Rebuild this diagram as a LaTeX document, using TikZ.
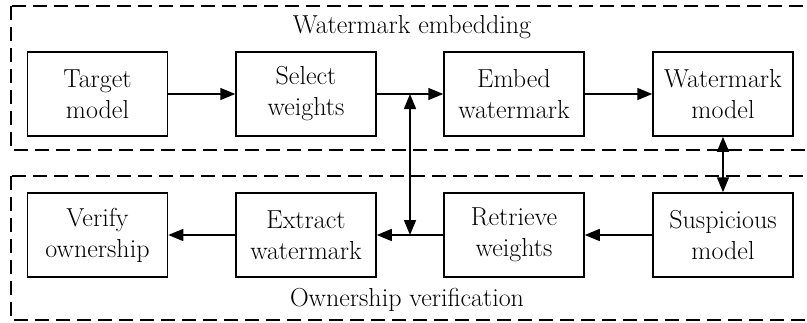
\documentclass[tikz,border=0pt]{standalone}
\usetikzlibrary{arrows.meta,calc}

\tikzset{
  blk/.style={draw, line width=1.5pt, minimum width=140pt, minimum height=84pt,
    inner sep=0pt, align=center, font=\fontsize{26}{31}\selectfont},
  grp/.style={draw, line width=1.5pt, dash pattern=on 14pt off 7pt},
  arr/.style={-{Triangle[length=15pt,width=12pt]}, line width=1.5pt},
  darr/.style={{Triangle[length=15pt,width=12pt]}-{Triangle[length=15pt,width=12pt]}, line width=1.5pt}
}

\begin{document}
\begin{tikzpicture}[x=1pt,y=-1pt]

\useasboundingbox (0,0) rectangle (807,322);
\clip (0,0) rectangle (807,322);

% dashed groups
\draw[grp] (11,6) rectangle (830,150);
\draw[grp] (11,176) rectangle (830,320);

\node[font=\fontsize{26}{31}\selectfont] (lemb) at (412,27) {Watermark embedding};
\node[font=\fontsize{26}{31}\selectfont] (lver) at (407,300) {Ownership verification};

\def \t {94}
\def \u {235}

% embedding row
\node[blk] (tar) at (97.5,\t) {Target\\model};
\node[blk] (sel) at (306,\t) {Select\\weights};
\node[blk] (emb) at (514,\t) {Embed\\watermark};
\node[blk] (wm) at (723,\t) {Watermark\\model};

% verification row
\node[blk] (ver) at (97.5,\u) {Verify\\ownership};
\node[blk] (ext) at (306,\u) {Extract\\watermark};
\node[blk] (ret) at (514,\u) {Retrieve\\weights};
\node[blk] (sus) at (723,\u) {Suspicious\\model};

\draw[arr] (tar) -- (sel);
\draw[arr] (sel) -- (emb);
\draw[arr] (emb) -- (wm);

\draw[arr] (sus) -- (ret);
\draw[arr] (ret) -- (ext);
\draw[arr] (ext) -- (ver);

\coordinate (jt) at ($(sel.east)!0.5!(emb.west)$);
\coordinate (jb) at ($(ext.east)!0.5!(ret.west)$);
\draw[darr] (jt) -- (jb);

\draw[darr] (wm) -- (sus);

\end{tikzpicture}
\end{document}
